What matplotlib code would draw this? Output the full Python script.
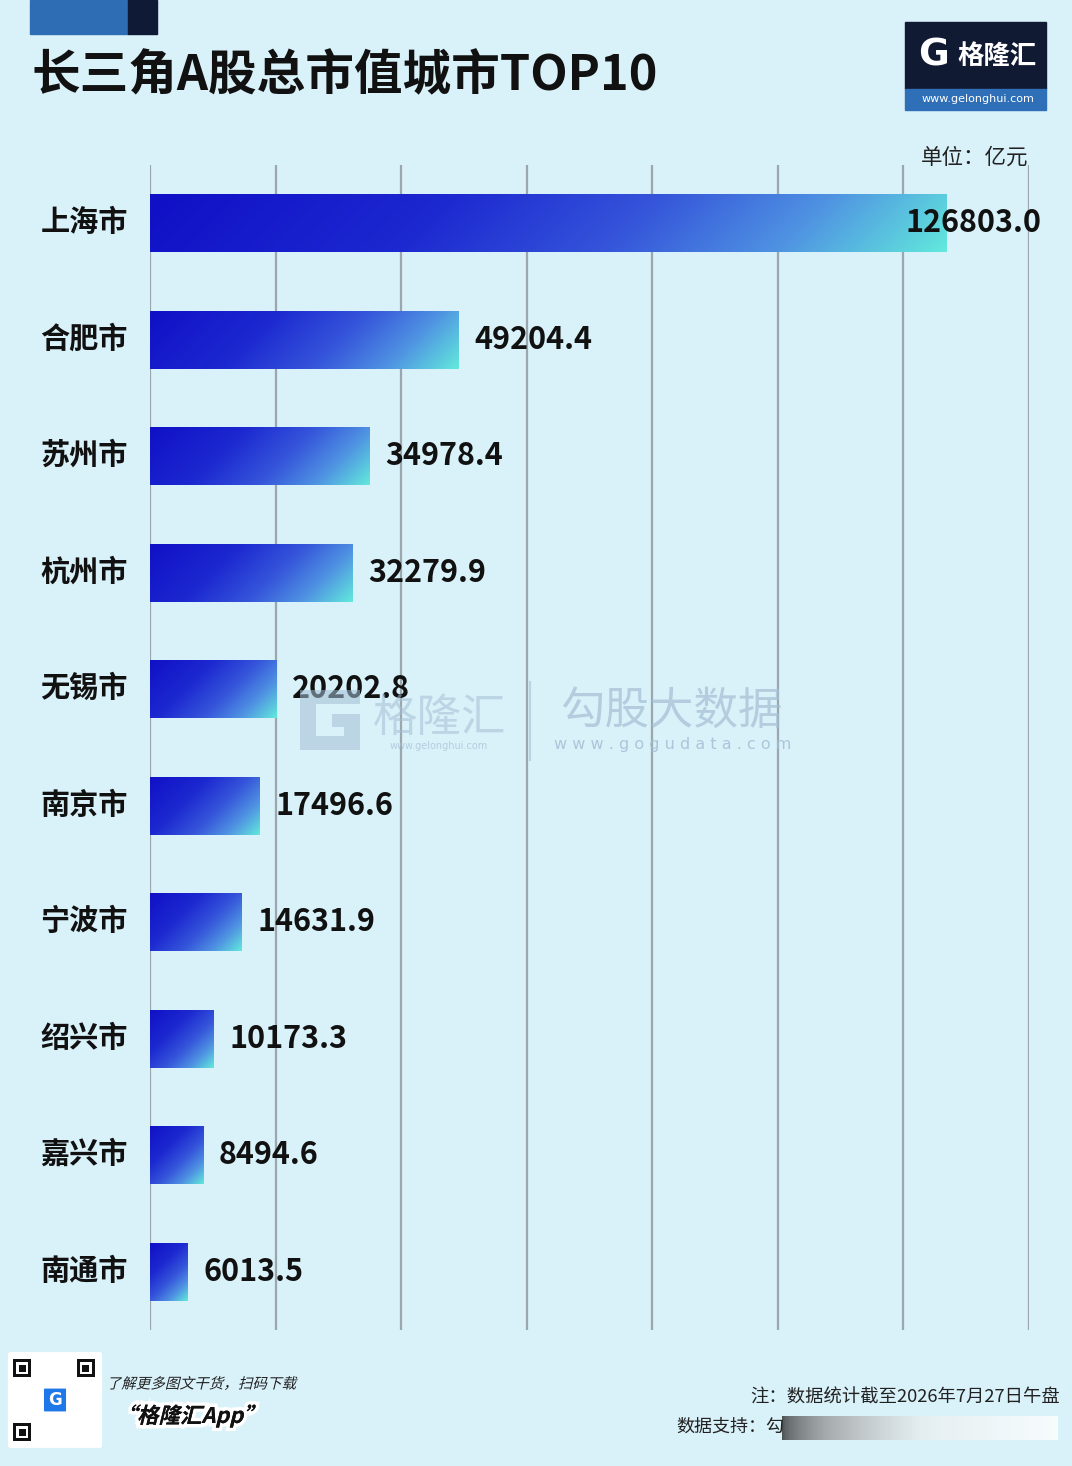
import numpy as np
import matplotlib
matplotlib.use("Agg")
import matplotlib.pyplot as plt
import matplotlib.patheffects as pe
from matplotlib.colors import LinearSegmentedColormap
from matplotlib.patches import Rectangle, FancyBboxPatch, PathPatch, Polygon
from matplotlib.textpath import TextPath
from matplotlib.font_manager import FontProperties
from matplotlib.transforms import Affine2D

plt.rcParams['font.family'] = ['Noto Sans CJK SC', 'DejaVu Sans']

# data
cities = ['上海市', '合肥市', '苏州市', '杭州市', '无锡市', '南京市', '宁波市', '绍兴市', '嘉兴市', '南通市']
values = [126803.0, 49204.4, 34978.4, 32279.9, 20202.8, 17496.6, 14631.9, 10173.3, 8494.6, 6013.5]
grid_ticks = [0, 20000, 40000, 60000, 80000, 100000, 120000, 140000]

title = '长三角A股总市值城市TOP10'
unit = '单位：亿元'
note = '注：数据统计截至2026年7月27日午盘'

BG = '#d9f1f9'
W, H = 1072, 1466
DPI = 100


def fx(px):
    return px / W


def fy(py):
    return 1 - py / H


def slanted_text(fig, s, x_px, y_px, pt, weight='normal', color='#222222', ha='left', glow=False):
    # CJK fonts have no italic, so shear the glyph outlines instead
    fp = FontProperties(family='Noto Sans CJK SC', weight=weight)
    tp = TextPath((0, 0), s, size=pt * DPI / 72, prop=fp)
    ext = tp.get_extents()
    x0 = x_px - ext.x0 if ha == 'left' else x_px - (ext.x0 + ext.x1) / 2
    tr = Affine2D().skew_deg(14, 0).translate(x0, (H - y_px) - (ext.y0 + ext.y1) / 2)
    patch = PathPatch(tp, transform=tr, facecolor=color, edgecolor='none', zorder=6)
    if glow:
        patch.set_path_effects([pe.withStroke(linewidth=5, foreground='white'), pe.Normal()])
    fig.add_artist(patch)


fig = plt.figure(figsize=(W / DPI, H / DPI), dpi=DPI, facecolor=BG)

# decorative blocks top-left
fig.patches.append(Rectangle((fx(30), fy(34)), fx(128) - fx(30), fy(0) - fy(34),
                             transform=fig.transFigure, color='#2e6db4', zorder=1))
fig.patches.append(Rectangle((fx(128), fy(34)), fx(157) - fx(128), fy(0) - fy(34),
                             transform=fig.transFigure, color='#0f1a36', zorder=1))

fig.text(fx(31), fy(76), title, fontsize=35, fontweight='heavy', color='#111111',
         ha='left', va='center')

# logo
fig.patches.append(Rectangle((fx(905), fy(89)), fx(1046) - fx(905), fy(22) - fy(89),
                             transform=fig.transFigure, color='#111a33', zorder=1))
fig.patches.append(Rectangle((fx(905), fy(110)), fx(1046) - fx(905), fy(89) - fy(110),
                             transform=fig.transFigure, color='#2f6fb8', zorder=1))
fig.text(fx(918), fy(56), 'G', fontsize=27, fontweight='bold', color='white',
         ha='left', va='center', family='DejaVu Sans')
fig.text(fx(957), fy(56), '格隆汇', fontsize=19, fontweight='bold', color='white',
         ha='left', va='center')
fig.text(fx(978), fy(99.5), 'www.gelonghui.com', fontsize=8, color='white',
         ha='center', va='center', family='DejaVu Sans')

fig.text(fx(1028), fy(158), unit, fontsize=15.5, color='#222222', ha='right', va='center')

# main axes
ax = fig.add_axes([fx(150), fy(1330), fx(1029) - fx(150), fy(165) - fy(1330)])
ax.set_facecolor('none')
ax.set_xlim(grid_ticks[0], grid_ticks[-1])
ax.set_ylim(len(cities) - 0.5, -0.5)

ypos = np.arange(len(cities))
bars = ax.barh(ypos, values, height=0.5, color='none', edgecolor='none', zorder=3)

for g in grid_ticks:
    ax.axvline(g, color='#9ba6ad', linewidth=1.6, zorder=1)

cmap = LinearSegmentedColormap.from_list('bar', [
    (0.0, '#1010c6'), (0.35, '#1c28d0'), (0.6, '#3555da'),
    (0.8, '#4f92e2'), (1.0, '#62e8dc')])

fig.canvas.draw()
px_per_x = ax.transData.transform((1, 0))[0] - ax.transData.transform((0, 0))[0]
px_per_y = abs(ax.transData.transform((0, 0))[1] - ax.transData.transform((0, 1))[1])
bh_px = 0.5 * px_per_y

for b, v in zip(bars, values):
    bw_px = v * px_per_x
    u = np.linspace(0, 1, 300)[None, :]
    w = np.linspace(0, 1, 60)[:, None]
    t = (u * bw_px + w * bh_px) / (bw_px + bh_px)
    x0, y0 = b.get_x(), b.get_y()
    im = ax.imshow(t, cmap=cmap, vmin=0, vmax=1, aspect='auto', interpolation='bilinear',
                   extent=[x0, x0 + b.get_width(), y0 + b.get_height(), y0], zorder=2)
    im.set_clip_path(b)

ax.set_xlim(grid_ticks[0], grid_ticks[-1])
ax.set_ylim(len(cities) - 0.5, -0.5)

for i, v in enumerate(values):
    if i == 0:
        ax.text(1.014, i, f'{v:.1f}', transform=ax.get_yaxis_transform(),
                fontsize=22, fontweight='bold', color='#111111', ha='right', va='center', zorder=5)
    else:
        ax.annotate(f'{v:.1f}', (v, i), xytext=(11, 0), textcoords='offset points',
                    fontsize=22, fontweight='bold', color='#111111', ha='left', va='center', zorder=5)

ax.set_yticks(ypos - 0.035)
ax.set_yticklabels(cities, fontsize=21, fontweight='bold', color='#111111')
ax.tick_params(axis='y', length=0, pad=16)
ax.set_xticks([])
for s in ax.spines.values():
    s.set_visible(False)

# watermark
wm = '#a3bfd4'
g_shape = [(300, 690), (360, 690), (360, 704), (316, 704), (316, 736), (344, 736), (344, 727),
           (332, 727), (332, 714), (360, 714), (360, 750), (300, 750)]
fig.patches.append(Polygon([(fx(px), fy(py)) for px, py in g_shape], closed=True,
                           transform=fig.transFigure, facecolor=wm, edgecolor='none',
                           alpha=0.55, zorder=4))
fig.text(fx(440), fy(718), '格隆汇', fontsize=32, color=wm, alpha=0.55, ha='center', va='center')
fig.text(fx(439), fy(746), 'www.gelonghui.com', fontsize=7, color=wm, alpha=0.7,
         ha='center', va='center', family='DejaVu Sans')
fig.add_artist(plt.Line2D([fx(530), fx(530)], [fy(682), fy(760)], color=wm, alpha=0.6, linewidth=1.5))
fig.text(fx(671), fy(711), '勾股大数据', fontsize=32, color=wm, alpha=0.7, ha='center', va='center')
fig.text(fx(673), fy(744), 'w w w . g o g u d a t a . c o m', fontsize=11.5, color=wm, alpha=0.85,
         ha='center', va='center', family='DejaVu Sans')

# footer: QR block
fig.patches.append(FancyBboxPatch((fx(10), fy(1445)), fx(100) - fx(10), fy(1355) - fy(1445),
                                  boxstyle='round,pad=0.002', transform=fig.transFigure,
                                  facecolor='white', edgecolor='none', zorder=2))
for (cx, cy) in [(22, 1368), (86, 1368), (22, 1432)]:
    fig.patches.append(Rectangle((fx(cx - 9), fy(cy + 9)), fx(18), 18 / H, transform=fig.transFigure,
                                 facecolor='#111111', zorder=3))
    fig.patches.append(Rectangle((fx(cx - 6), fy(cy + 6)), fx(12), 12 / H, transform=fig.transFigure,
                                 facecolor='white', zorder=4))
    fig.patches.append(Rectangle((fx(cx - 3.5), fy(cy + 3.5)), fx(7), 7 / H, transform=fig.transFigure,
                                 facecolor='#111111', zorder=5))
fig.patches.append(FancyBboxPatch((fx(44), fy(1411)), fx(22), 22 / H, boxstyle='round,pad=0.001',
                                  transform=fig.transFigure, facecolor='#1f78e8', edgecolor='white',
                                  linewidth=1.5, zorder=5))
fig.text(fx(55), fy(1400), 'G', fontsize=12, fontweight='bold', color='white', ha='center',
         va='center', family='DejaVu Sans', zorder=6)

slanted_text(fig, '了解更多图文干货，扫码下载', 108, 1383, 10.5, color='#222222')
slanted_text(fig, '“格隆汇App”', 190, 1416, 15.5, weight='bold', color='#111111', ha='center', glow=True)

fig.text(fx(1060), fy(1398), note, fontsize=13.2, color='#222222', ha='right', va='center')
fig.text(fx(676), fy(1427), '数据支持：勾', fontsize=13, color='#222222', ha='left', va='center')

# blurred remainder of the source line
blur = LinearSegmentedColormap.from_list('blur', ['#2a2a2a', '#9a9a9a', '#e8eef0', '#ffffff'])
bax = fig.add_axes([fx(782), fy(1440), fx(1058) - fx(782), (1440 - 1416) / H])
bax.imshow(np.linspace(0, 1, 200)[None, :] ** 0.6, cmap=blur, aspect='auto', alpha=0.8)
bax.axis('off')

fig.savefig('out.png', dpi=DPI, facecolor=BG)
